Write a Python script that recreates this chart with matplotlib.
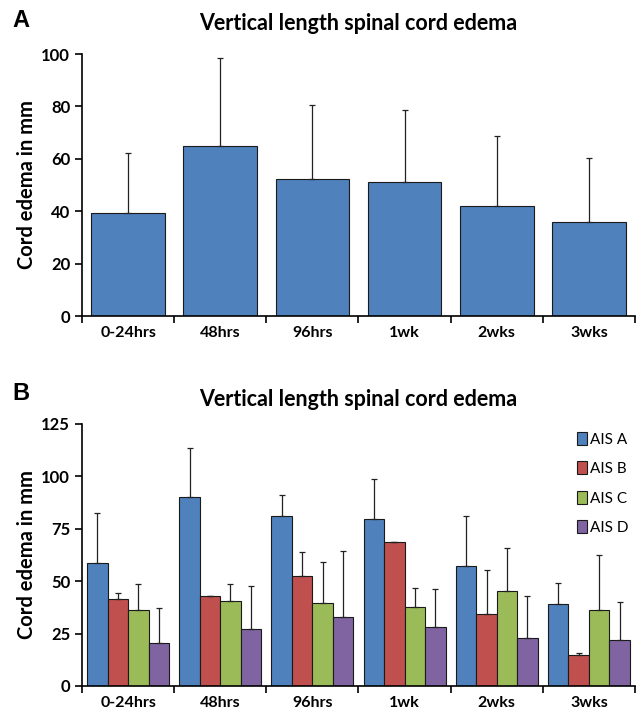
import matplotlib
matplotlib.use("Agg")
import matplotlib.pyplot as plt
import numpy as np
from matplotlib.patches import Patch

categories = ["0-24hrs", "48hrs", "96hrs", "1wk", "2wks", "3wks"]

overall_mean = [39.2, 64.8, 52.2, 51.1, 42.0, 35.8]
overall_err = [23.0, 33.7, 28.5, 27.7, 26.7, 24.6]

series_names = ["AIS A", "AIS B", "AIS C", "AIS D"]
ais_a_mean = [58.7, 90.4, 80.9, 79.5, 57.3, 39.0]
ais_a_err = [23.8, 23.1, 10.4, 19.2, 23.6, 10.3]
ais_b_mean = [41.7, 42.8, 52.5, 68.8, 34.3, 14.7]
ais_b_err = [2.8, 0.0, 11.5, 0.0, 20.8, 1.1]
ais_c_mean = [36.2, 40.7, 39.8, 37.5, 45.2, 36.4]
ais_c_err = [12.3, 7.8, 19.4, 9.3, 20.4, 25.9]
ais_d_mean = [20.3, 27.1, 32.7, 27.9, 23.0, 22.0]
ais_d_err = [16.9, 20.8, 31.5, 18.2, 19.8, 17.9]

colors = ["#4F81BD", "#C0504D", "#9BBB59", "#8064A2"]

plt.rcParams["font.family"] = ["Lato", "DejaVu Sans"]

fig = plt.figure(figsize=(6.38, 7.15), dpi=100)

def style_axes(ax, ymax, step):
    ax.spines["top"].set_visible(False)
    ax.spines["right"].set_visible(False)
    ax.spines["left"].set_linewidth(1.2)
    ax.spines["bottom"].set_linewidth(1.2)
    ax.set_xlim(-0.5, len(categories) - 0.5)
    ax.set_ylim(0, ymax)
    ax.set_yticks(np.arange(0, ymax + 1, step))
    ax.set_xticks(np.arange(-0.5, len(categories) + 0.5, 1.0))
    ax.set_xticklabels([])
    ax.set_xticks(np.arange(len(categories)), minor=True)
    ax.set_xticklabels(categories, minor=True, fontsize=11.5, fontweight="bold")
    ax.tick_params(axis="x", which="minor", length=0, pad=7)
    ax.tick_params(axis="x", which="major", length=5, width=1.2, direction="out")
    ax.tick_params(axis="y", length=5, width=1.2, direction="out", labelsize=12)
    for lab in ax.get_yticklabels():
        lab.set_fontweight("bold")
    ax.set_ylabel("Cord edema in mm", fontsize=14.5, fontweight="bold", labelpad=3)

# Panel A
axA = fig.add_axes([0.1285, 0.558, 0.8668, 0.3664])
x = np.arange(len(categories))
axA.bar(x, overall_mean, width=0.8, color=colors[0], edgecolor="#1a1a1a", linewidth=0.8,
        yerr=[np.zeros(len(x)), overall_err], error_kw=dict(ecolor="#222222", elinewidth=0.9, capsize=2.5, capthick=0.9),
        zorder=2)
style_axes(axA, 100, 20)
axA.set_title("Vertical length spinal cord edema", fontsize=15.5, fontweight="bold", pad=17)
fig.text(0.02, 0.972, "A", fontsize=17, fontweight="bold", family="Liberation Sans", va="center", ha="left")

# Panel B
axB = fig.add_axes([0.1285, 0.0406, 0.8668, 0.3664])
means = [ais_a_mean, ais_b_mean, ais_c_mean, ais_d_mean]
errs = [ais_a_err, ais_b_err, ais_c_err, ais_d_err]
bw = 0.2222
for i, (m, e) in enumerate(zip(means, errs)):
    offs = (i - 1.5) * bw
    axB.bar(x + offs, m, width=bw, color=colors[i], edgecolor="#1a1a1a", linewidth=0.8,
            yerr=[np.zeros(len(x)), e], error_kw=dict(ecolor="#222222", elinewidth=0.9, capsize=2.5, capthick=0.9),
            label=series_names[i], zorder=2)
style_axes(axB, 125, 25)
axB.set_title("Vertical length spinal cord edema", fontsize=15.5, fontweight="bold", pad=13)
fig.text(0.02, 0.45, "B", fontsize=17, fontweight="bold", family="Liberation Sans", va="center", ha="left")

handles = [Patch(facecolor=colors[i], edgecolor="#1a1a1a", linewidth=0.8) for i in range(4)]
fig.legend(handles, series_names, loc="upper right", bbox_to_anchor=(632 / 638, 1 - 429 / 715), frameon=False,
           fontsize=11, handlelength=0.65, handleheight=0.9, handletextpad=0.25, labelspacing=0.97,
           borderpad=0.2, borderaxespad=0.0)

fig.savefig("out.png", dpi=100)
